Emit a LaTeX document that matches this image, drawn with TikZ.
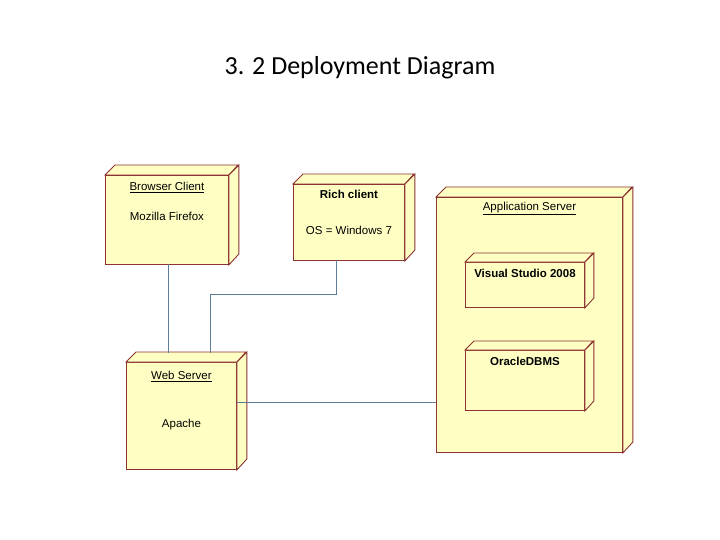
\documentclass[tikz,border=0pt]{standalone}
\usepackage{fontspec}
\setmainfont{Liberation Sans}
\newfontfamily\titlefont{Carlito}
\usetikzlibrary{positioning}
\definecolor{nodefill}{RGB}{255,255,196}
\definecolor{nodeedge}{RGB}{140,50,50}
\definecolor{linkcol}{RGB}{95,125,150}
\tikzset{
  device/.style={draw=nodeedge, fill=nodefill, line width=0.9pt, inner sep=0pt},
  lbl/.style={font=\fontsize{11.5}{13}\selectfont, inner sep=1pt},
  link/.style={draw=linkcol, line width=0.8pt},
}
% 3D box: name, top-left x, top-left y, width, height, depth
\newcommand{\devicebox}[6]{
  \node[device, anchor=north west, minimum width=#4pt, minimum height=#5pt] (#1) at (#2,#3) {};
  \draw[device] (#1.north west) -- ++(#6,-#6) -- ++(#4,0) -- (#1.north east) -- cycle;
  \draw[device] (#1.north east) -- ++(#6,-#6) -- ++(0,#5) -- (#1.south east) -- cycle;
}
\begin{document}
\begin{tikzpicture}[x=1pt,y=-1pt]
  \useasboundingbox (0,0) rectangle (720,540);
  \node[font=\titlefont\fontsize{26}{30}\selectfont] (title) at (360,68) {3. 2 Deployment Diagram};

  \devicebox{browser}{105}{175}{123}{89}{10}
  \devicebox{rich}{293}{184}{111}{76}{10}
  \devicebox{app}{436}{197}{186}{255}{10}
  \devicebox{vs}{465}{262}{119}{45}{9}
  \devicebox{oracle}{465}{350}{119}{60}{9}
  \devicebox{web}{126}{362}{110}{107}{10}

  \node[lbl, below=6pt of browser.north] (browserT) {\underline{Browser Client}};
  \node[lbl, below=36pt of browser.north] (browserS) {Mozilla Firefox};
  \node[lbl, below=5pt of rich.north] (richT) {\textbf{Rich client}};
  \node[lbl, below=41pt of rich.north] (richS) {OS = Windows 7};
  \node[lbl, below=4pt of app.north] (appT) {\underline{Application Server}};
  \node[lbl, below=6pt of vs.north] (vsT) {\textbf{Visual Studio 2008}};
  \node[lbl, below=6pt of oracle.north] (oracleT) {\textbf{OracleDBMS}};
  \node[lbl, below=8pt of web.north] (webT) {\underline{Web Server}};
  \node[lbl, below=56pt of web.north] (webS) {Apache};

  \coordinate (browserL) at (168,264);
  \coordinate (richL) at (336,260);
  \coordinate (webB) at (168,353);
  \coordinate (webR) at (210,353);
  \draw[link] (browserL) -- (webB);
  \draw[link] (richL) -- (336,294) -- (210,294) -- (webR);
  \draw[link] (web.east |- 0,402) -- (app.west |- 0,402);
\end{tikzpicture}
\end{document}
